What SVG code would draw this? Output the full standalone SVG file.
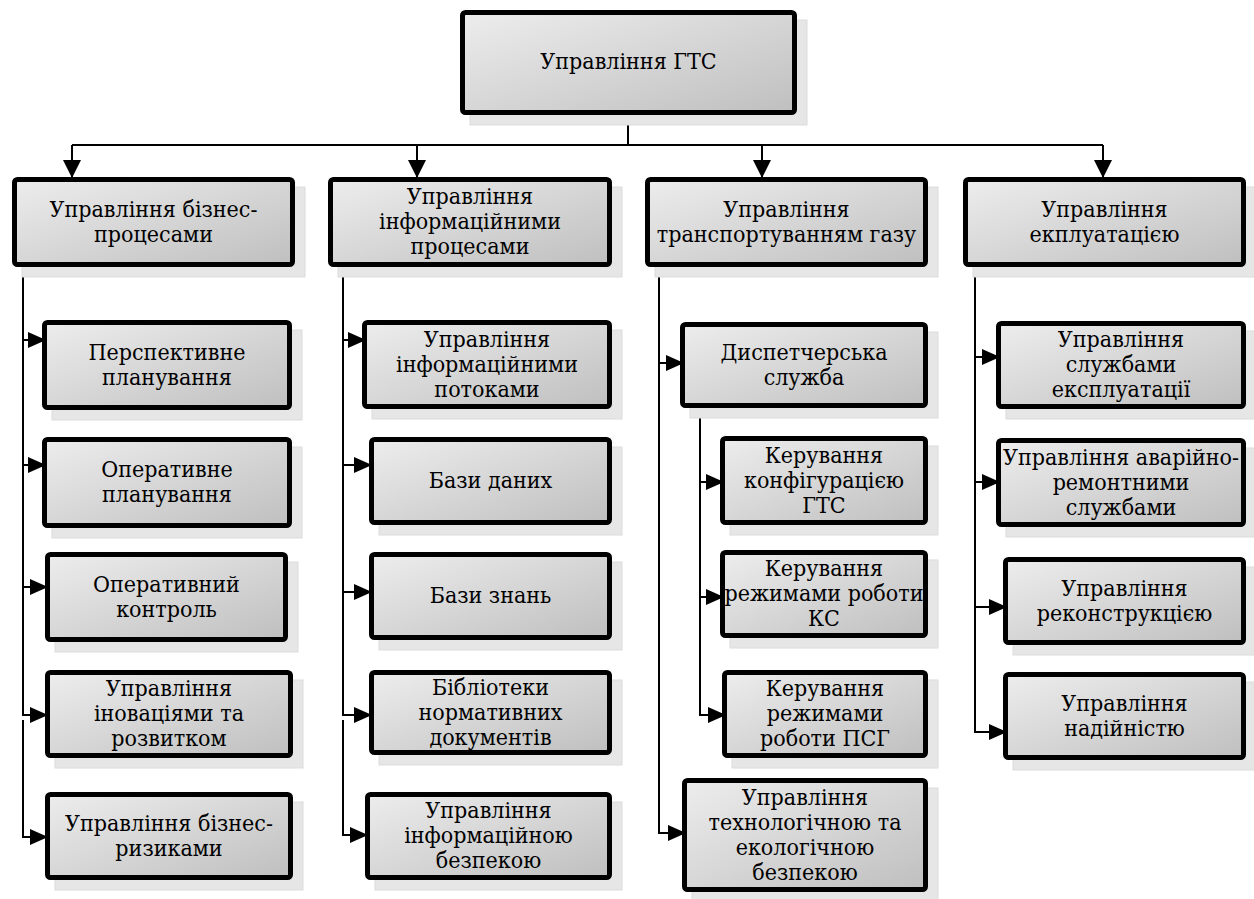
<svg xmlns="http://www.w3.org/2000/svg" width="1254" height="899" viewBox="0 0 1254 899">
<style>
.sh{fill:#e6e6e6;stroke:#dcdcdc;stroke-width:1}
.bx{fill:url(#g);stroke:#000;stroke-width:5}
.c{fill:none;stroke:#000;stroke-width:2}
.a{marker-end:url(#ah)}
.b{marker-end:url(#ab)}
</style>
<defs>
<linearGradient id="g" x1="0" y1="0" x2="1" y2="1">
<stop offset="0" stop-color="#ededed"/>
<stop offset="1" stop-color="#bfbfbf"/>
</linearGradient>
<marker id="ah" markerUnits="userSpaceOnUse" markerWidth="19" markerHeight="16" refX="18" refY="8" orient="auto">
<path d="M0,0 L18,8 L0,16 z" fill="#000"/>
</marker>
<marker id="ab" markerUnits="userSpaceOnUse" markerWidth="19" markerHeight="18" refX="18" refY="9" orient="auto">
<path d="M0,0 L18,9 L0,18 z" fill="#000"/>
</marker>
</defs>
<rect width="1254" height="899" fill="#fff"/>

<g id="connectors">
<path class="c" d="M628,115 V145 M72,145 H1103"/>
<path class="c b" d="M72,145 V178"/>
<path class="c b" d="M417,145 V178"/>
<path class="c b" d="M762,145 V178"/>
<path class="c b" d="M1103,145 V178"/>

<path class="c a" d="M23,267 V340 H46"/>
<path class="c a" d="M23,267 V465 H46"/>
<path class="c a" d="M23,267 V587 H48"/>
<path class="c a" d="M23,267 V715 H48"/>
<path class="c a" d="M23,720 V837 H48"/>

<path class="c a" d="M343,267 V340 H366"/>
<path class="c a" d="M343,267 V465 H372"/>
<path class="c a" d="M343,267 V592 H372"/>
<path class="c a" d="M343,267 V715 H372"/>
<path class="c a" d="M343,720 V835 H368"/>

<path class="c a" d="M659,267 V363 H684"/>
<path class="c a" d="M659,267 V833 H686"/>
<path class="c a" d="M700,408 V482 H724"/>
<path class="c a" d="M700,408 V597 H724"/>
<path class="c a" d="M700,408 V715 H726"/>

<path class="c a" d="M975,267 V357 H1000"/>
<path class="c a" d="M975,267 V482 H1000"/>
<path class="c a" d="M975,267 V607 H1007"/>
<path class="c a" d="M975,267 V732 H1007"/>
</g>

<g font-family="'DejaVu Serif Condensed', 'DejaVu Serif', serif" font-stretch="condensed" font-size="23" fill="#000" text-anchor="middle">
<g id="root">
<rect class="sh" x="470" y="20" width="337" height="105"/>
<rect class="bx" x="462.5" y="12.5" width="332" height="100" rx="3"/>
<text x="628.5" y="69">Управління ГТС</text>
</g>

<g id="n-business">
<rect class="sh" x="22" y="187" width="283" height="90"/>
<rect class="bx" x="14.5" y="179.5" width="278" height="85" rx="3"/>
<text><tspan x="153.5" y="216.5">Управління бізнес-</tspan><tspan x="153.5" y="241.5">процесами</tspan></text>
</g>
<g id="n-info">
<rect class="sh" x="338" y="187" width="284" height="90"/>
<rect class="bx" x="330.5" y="179.5" width="279" height="85" rx="3"/>
<text><tspan x="470" y="204">Управління</tspan><tspan x="470" y="229">інформаційними</tspan><tspan x="470" y="254">процесами</tspan></text>
</g>
<g id="n-transport">
<rect class="sh" x="655" y="187" width="283" height="90"/>
<rect class="bx" x="647.5" y="179.5" width="278" height="85" rx="3"/>
<text><tspan x="786.5" y="216.5">Управління</tspan><tspan x="786.5" y="241.5">транспортуванням газу</tspan></text>
</g>
<g id="n-exploit">
<rect class="sh" x="973" y="187" width="283" height="90"/>
<rect class="bx" x="965.5" y="179.5" width="278" height="85" rx="3"/>
<text><tspan x="1104.5" y="216.5">Управління</tspan><tspan x="1104.5" y="241.5">екплуатацією</tspan></text>
</g>

<g id="a1">
<rect class="sh" x="52" y="330" width="250" height="90"/>
<rect class="bx" x="44.5" y="322.5" width="245" height="85" rx="3"/>
<text><tspan x="167" y="359.5">Перспективне</tspan><tspan x="167" y="384.5">планування</tspan></text>
</g>
<g id="a2">
<rect class="sh" x="52" y="447" width="250" height="91"/>
<rect class="bx" x="44.5" y="439.5" width="245" height="86" rx="3"/>
<text><tspan x="167" y="477">Оперативне</tspan><tspan x="167" y="502">планування</tspan></text>
</g>
<g id="a3">
<rect class="sh" x="55" y="562" width="243" height="90"/>
<rect class="bx" x="47.5" y="554.5" width="238" height="85" rx="3"/>
<text><tspan x="166.5" y="591.5">Оперативний</tspan><tspan x="166.5" y="616.5">контроль</tspan></text>
</g>
<g id="a4">
<rect class="sh" x="55" y="680" width="248" height="88"/>
<rect class="bx" x="47.5" y="672.5" width="243" height="83" rx="3"/>
<text><tspan x="169" y="696">Управління</tspan><tspan x="169" y="721">іноваціями та</tspan><tspan x="169" y="746">розвитком</tspan></text>
</g>
<g id="a5">
<rect class="sh" x="55" y="802" width="248" height="88"/>
<rect class="bx" x="47.5" y="794.5" width="243" height="83" rx="3"/>
<text><tspan x="169" y="830.5">Управління бізнес-</tspan><tspan x="169" y="855.5">ризиками</tspan></text>
</g>

<g id="b1">
<rect class="sh" x="372" y="330" width="250" height="89"/>
<rect class="bx" x="364.5" y="322.5" width="245" height="84" rx="3"/>
<text><tspan x="487" y="346.5">Управління</tspan><tspan x="487" y="371.5">інформаційними</tspan><tspan x="487" y="396.5">потоками</tspan></text>
</g>
<g id="b2">
<rect class="sh" x="379" y="447" width="243" height="88"/>
<rect class="bx" x="371.5" y="439.5" width="238" height="83" rx="3"/>
<text x="490.5" y="488">Бази даних</text>
</g>
<g id="b3">
<rect class="sh" x="379" y="562" width="243" height="88"/>
<rect class="bx" x="371.5" y="554.5" width="238" height="83" rx="3"/>
<text x="490.5" y="603">Бази знань</text>
</g>
<g id="b4">
<rect class="sh" x="379" y="680" width="243" height="85"/>
<rect class="bx" x="371.5" y="672.5" width="238" height="80" rx="3"/>
<text><tspan x="490.5" y="694.5">Бібліотеки</tspan><tspan x="490.5" y="719.5">нормативних</tspan><tspan x="490.5" y="744.5">документів</tspan></text>
</g>
<g id="b5">
<rect class="sh" x="375" y="802" width="247" height="88"/>
<rect class="bx" x="367.5" y="794.5" width="242" height="83" rx="3"/>
<text><tspan x="488.5" y="818">Управління</tspan><tspan x="488.5" y="843">інформаційною</tspan><tspan x="488.5" y="868">безпекою</tspan></text>
</g>

<g id="c1">
<rect class="sh" x="690" y="332" width="248" height="86"/>
<rect class="bx" x="682.5" y="324.5" width="243" height="81" rx="3"/>
<text><tspan x="804" y="359.5">Диспетчерська</tspan><tspan x="804" y="384.5">служба</tspan></text>
</g>
<g id="c2">
<rect class="sh" x="730" y="446" width="208" height="89"/>
<rect class="bx" x="722.5" y="438.5" width="203" height="84" rx="3"/>
<text><tspan x="824" y="462.5">Керування</tspan><tspan x="824" y="487.5">конфігурацією</tspan><tspan x="824" y="512.5">ГТС</tspan></text>
</g>
<g id="c3">
<rect class="sh" x="730" y="560" width="208" height="88"/>
<rect class="bx" x="722.5" y="552.5" width="203" height="83" rx="3"/>
<text><tspan x="824" y="576">Керування</tspan><tspan x="824" y="601">режимами роботи</tspan><tspan x="824" y="626">КС</tspan></text>
</g>
<g id="c4">
<rect class="sh" x="732" y="680" width="206" height="88"/>
<rect class="bx" x="724.5" y="672.5" width="201" height="83" rx="3"/>
<text><tspan x="825" y="696">Керування</tspan><tspan x="825" y="721">режимами</tspan><tspan x="825" y="746">роботи ПСГ</tspan></text>
</g>
<g id="c5">
<rect class="sh" x="692" y="788" width="246" height="114"/>
<rect class="bx" x="684.5" y="780.5" width="241" height="109" rx="3"/>
<text><tspan x="805" y="804.5">Управління</tspan><tspan x="805" y="829.5">технологічною та</tspan><tspan x="805" y="854.5">екологічною</tspan><tspan x="805" y="879.5">безпекою</tspan></text>
</g>

<g id="d1">
<rect class="sh" x="1006" y="331" width="250" height="88"/>
<rect class="bx" x="998.5" y="323.5" width="245" height="83" rx="3"/>
<text><tspan x="1121" y="347">Управління</tspan><tspan x="1121" y="372">службами</tspan><tspan x="1121" y="397">експлуатації</tspan></text>
</g>
<g id="d2">
<rect class="sh" x="1006" y="448" width="250" height="89"/>
<rect class="bx" x="998.5" y="440.5" width="245" height="84" rx="3"/>
<text><tspan x="1121" y="464.5">Управління аварійно-</tspan><tspan x="1121" y="489.5">ремонтними</tspan><tspan x="1121" y="514.5">службами</tspan></text>
</g>
<g id="d3">
<rect class="sh" x="1013" y="567" width="243" height="88"/>
<rect class="bx" x="1005.5" y="559.5" width="238" height="83" rx="3"/>
<text><tspan x="1124.5" y="595.5">Управління</tspan><tspan x="1124.5" y="620.5">реконструкцією</tspan></text>
</g>
<g id="d4">
<rect class="sh" x="1013" y="682" width="243" height="88"/>
<rect class="bx" x="1005.5" y="674.5" width="238" height="83" rx="3"/>
<text><tspan x="1124.5" y="710.5">Управління</tspan><tspan x="1124.5" y="735.5">надійністю</tspan></text>
</g>
</g>
</svg>
